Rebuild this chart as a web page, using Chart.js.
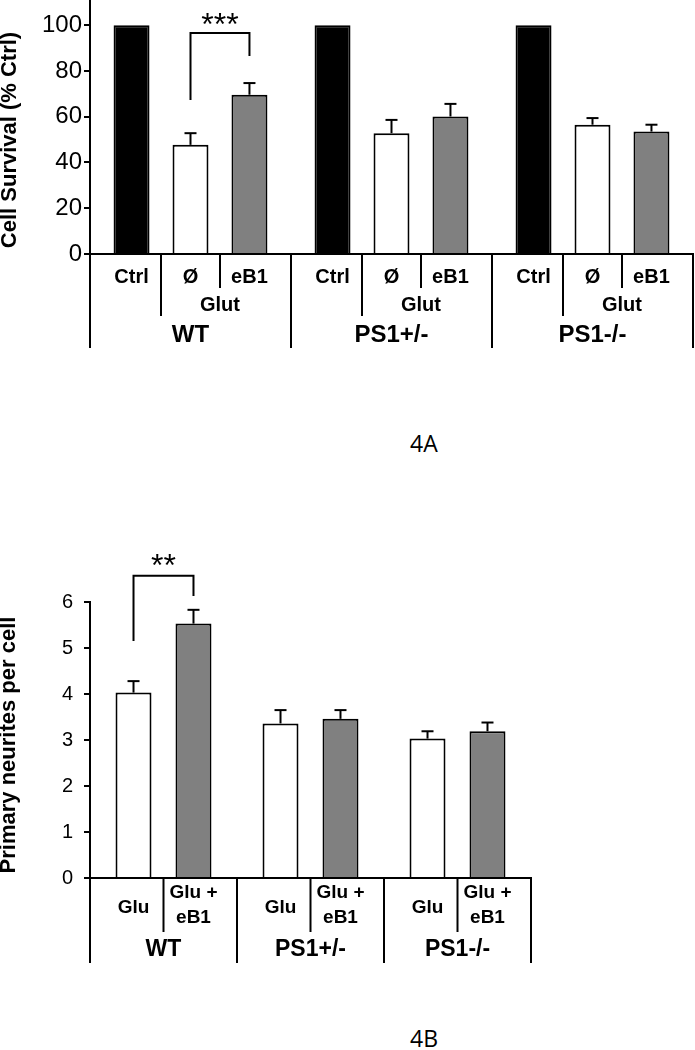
<!DOCTYPE html>
<html>
<head>
<meta charset="utf-8">
<script src="https://cdn.jsdelivr.net/npm/chart.js@4/dist/chart.umd.min.js"></script>
<style>
body { margin: 0; background: #fff; width: 695px; height: 1050px; position: relative; overflow: hidden; }
.wrap { position: absolute; left: 0; width: 695px; }
.fig { position: absolute; font-family: 'Open Sans', sans-serif; font-size: 23px; line-height: 23px; color: #000; }
</style>
</head>
<body>
<div class="wrap" style="top:0;height:360px"><canvas id="chartA" width="695" height="360"></canvas></div>
<div class="wrap" style="top:520px;height:460px"><canvas id="chartB" width="695" height="460"></canvas></div>
<div class="fig" style="left:410px;top:432px">4A</div>
<div class="fig" style="left:410px;top:1027px">4B</div>
<script>
// panel 4A - cell survival
let groupsA = ['WT', 'PS1+/-', 'PS1-/-']
let condsA = [['Ctrl'], ['Ø'], ['eB1']]
let ctrlA = [100, 100, 100]
let glutA = [47.7, 52.8, 56.5]
let glutErrA = [5.1, 5.8, 2.9]
let eb1A = [69.6, 60.1, 53.5]
let eb1ErrA = [5.1, 5.5, 3.0]
let maxTickA = 100
let stepA = 20

// panel 4B - primary neurites
let groupsB = ['WT', 'PS1+/-', 'PS1-/-']
let condsB = [['Glu'], ['Glu +', 'eB1']]
let gluB = [4.03, 3.36, 3.03]
let gluErrB = [0.25, 0.29, 0.16]
let gluEb1B = [5.53, 3.46, 3.19]
let gluEb1ErrB = [0.30, 0.19, 0.19]

Chart.defaults.font.family = "'Liberation Sans', Arial, sans-serif"
Chart.defaults.color = '#000'

let vline = function(ctx, x, y1, y2) {
    ctx.beginPath()
    ctx.moveTo(x, y1)
    ctx.lineTo(x, y2)
    ctx.stroke()
}

// error bars, two-level category labels, brackets and axis title
let decor = function(d) {
    return {
        id: 'decor',
        afterDatasetsDraw(chart) {
            let ctx = chart.ctx
            let x = chart.scales.x
            let y = chart.scales.y
            let area = chart.chartArea
            let bottom = area.bottom
            let gw = (area.right - area.left) / d.groups.length
            ctx.save()
            ctx.strokeStyle = '#000'
            ctx.fillStyle = '#000'
            ctx.lineWidth = 2

            chart.data.datasets.forEach((ds, di) => {
                if (!ds.errors) return
                chart.getDatasetMeta(di).data.forEach((bar, i) => {
                    let top = y.getPixelForValue(ds.data[i] + ds.errors[i])
                    vline(ctx, bar.x, bar.y, top)
                    ctx.beginPath()
                    ctx.moveTo(bar.x - 6, top)
                    ctx.lineTo(bar.x + 6, top)
                    ctx.stroke()
                })
            })

            ctx.textAlign = 'center'
            ctx.textBaseline = 'middle'
            d.groups.forEach((g, gi) => {
                let gx = x.getPixelForValue(gi)
                vline(ctx, gx - gw / 2, bottom, bottom + d.groupLine)
                if (gi === d.groups.length - 1) vline(ctx, gx + gw / 2, bottom, bottom + d.groupLine)
                let centers = chart.data.datasets.map((ds, di) => chart.getDatasetMeta(di).data[gi].x)
                for (let k = 1; k < centers.length; k++) {
                    vline(ctx, (centers[k - 1] + centers[k]) / 2, bottom, bottom + d.innerLines[k - 1])
                }
                ctx.font = d.condFont
                d.conds.forEach((lines, k) => {
                    lines.forEach((t, li) => {
                        ctx.fillText(t, centers[k], bottom + d.rows[lines.length][li])
                    })
                })
                if (d.span) {
                    ctx.fillText(d.span.text, (centers[d.span.from] + centers[d.span.to]) / 2, bottom + d.span.y)
                }
                ctx.font = d.groupFont
                ctx.fillText(g, gx, bottom + d.groupY)
            })

            let s = d.sig
            let xa = chart.getDatasetMeta(s.from).data[s.group].x
            let xb = chart.getDatasetMeta(s.to).data[s.group].x
            let yt = y.getPixelForValue(s.top)
            ctx.beginPath()
            ctx.moveTo(xa, y.getPixelForValue(s.leftEnd))
            ctx.lineTo(xa, yt)
            ctx.lineTo(xb, yt)
            ctx.lineTo(xb, y.getPixelForValue(s.rightEnd))
            ctx.stroke()
            ctx.font = s.font
            ctx.textBaseline = 'alphabetic'
            ctx.fillText(s.text, (xa + xb) / 2, y.getPixelForValue(s.textAt) + s.size * 0.57)

            ctx.translate(d.titleX, d.titleY)
            ctx.rotate(-Math.PI / 2)
            ctx.font = d.titleFont
            ctx.textBaseline = 'middle'
            ctx.fillText(d.title, 0, 0)
            ctx.restore()
        }
    }
}

let chartA = new Chart(
    document.getElementById('chartA'),
    {
        type: 'bar',
        data: {
            labels: groupsA,
            datasets: [
                { label: 'Ctrl', data: ctrlA, backgroundColor: '#000', borderColor: '#000', borderWidth: 2 },
                { label: 'Ø', data: glutA, errors: glutErrA, backgroundColor: '#fff', borderColor: '#000', borderWidth: 2 },
                { label: 'eB1', data: eb1A, errors: eb1ErrA, backgroundColor: '#808080', borderColor: '#000', borderWidth: 2 }
            ]
        },
        options: {
            responsive: false,
            animation: false,
            devicePixelRatio: 1,
            layout: { padding: { left: 0, right: 2, top: 0, bottom: 0 } },
            datasets: { bar: { categoryPercentage: 0.88, barPercentage: 0.61 } },
            plugins: { legend: { display: false }, tooltip: { enabled: false } },
            scales: {
                x: {
                    grid: { display: false },
                    ticks: { display: false },
                    border: { color: '#000', width: 2 },
                    afterFit: s => { s.height = 106 }
                },
                y: {
                    min: 0,
                    max: 111,
                    ticks: { stepSize: stepA, includeBounds: false, autoSkip: false, font: { size: 24 }, color: '#000', padding: 2 },
                    grid: { drawOnChartArea: false, color: '#000', lineWidth: 2, tickLength: 6 },
                    border: { color: '#000', width: 2 },
                    afterBuildTicks: s => { s.ticks = s.ticks.filter(t => t.value <= maxTickA) },
                    afterFit: s => { s.width = 90; s.paddingTop = 0; s.paddingBottom = 0 }
                }
            }
        },
        plugins: [decor({
            groups: groupsA,
            conds: condsA,
            rows: { 1: [23] },
            condFont: 'bold 20px "Liberation Sans", Arial',
            span: { text: 'Glut', from: 1, to: 2, y: 51 },
            groupFont: 'bold 24px "Liberation Sans", Arial',
            groupY: 81,
            groupLine: 94,
            innerLines: [62, 34],
            sig: { group: 0, from: 1, to: 2, top: 96.6, leftEnd: 67.3, rightEnd: 86.5, textAt: 103.6, text: '***', size: 32, font: '32px "Liberation Sans", Arial' },
            title: 'Cell Survival (% Ctrl)',
            titleFont: 'bold 22px "Liberation Sans", Arial',
            titleX: 10,
            titleY: 140
        })]
    }
)

let chartB = new Chart(
    document.getElementById('chartB'),
    {
        type: 'bar',
        data: {
            labels: groupsB,
            datasets: [
                { label: 'Glu', data: gluB, errors: gluErrB, backgroundColor: '#fff', borderColor: '#000', borderWidth: 2 },
                { label: 'Glu + eB1', data: gluEb1B, errors: gluEb1ErrB, backgroundColor: '#808080', borderColor: '#000', borderWidth: 2 }
            ]
        },
        options: {
            responsive: false,
            animation: false,
            devicePixelRatio: 1,
            layout: { padding: { left: 0, right: 164, top: 82, bottom: 0 } },
            datasets: { bar: { categoryPercentage: 0.816, barPercentage: 0.6 } },
            plugins: { legend: { display: false }, tooltip: { enabled: false } },
            scales: {
                x: {
                    grid: { display: false },
                    ticks: { display: false },
                    border: { color: '#000', width: 2 },
                    afterFit: s => { s.height = 102 }
                },
                y: {
                    min: 0,
                    max: 6,
                    ticks: { stepSize: 1, autoSkip: false, font: { size: 20 }, color: '#000', padding: 11 },
                    grid: { drawOnChartArea: false, color: '#000', lineWidth: 2, tickLength: 6 },
                    border: { color: '#000', width: 2 },
                    afterFit: s => { s.width = 90; s.paddingTop = 0; s.paddingBottom = 0 }
                }
            }
        },
        plugins: [decor({
            groups: groupsB,
            conds: condsB,
            rows: { 1: [30], 2: [15, 40] },
            condFont: 'bold 19px "Liberation Sans", Arial',
            groupFont: 'bold 23px "Liberation Sans", Arial',
            groupY: 72,
            groupLine: 85,
            innerLines: [54],
            sig: { group: 0, from: 0, to: 1, top: 6.57, leftEnd: 5.15, rightEnd: 6.13, textAt: 6.97, text: '**', size: 32, font: '32px "Liberation Sans", Arial' },
            title: 'Primary neurites per cell',
            titleFont: 'bold 22px "Liberation Sans", Arial',
            titleX: 9,
            titleY: 225
        })]
    }
)
</script>
</body>
</html>
